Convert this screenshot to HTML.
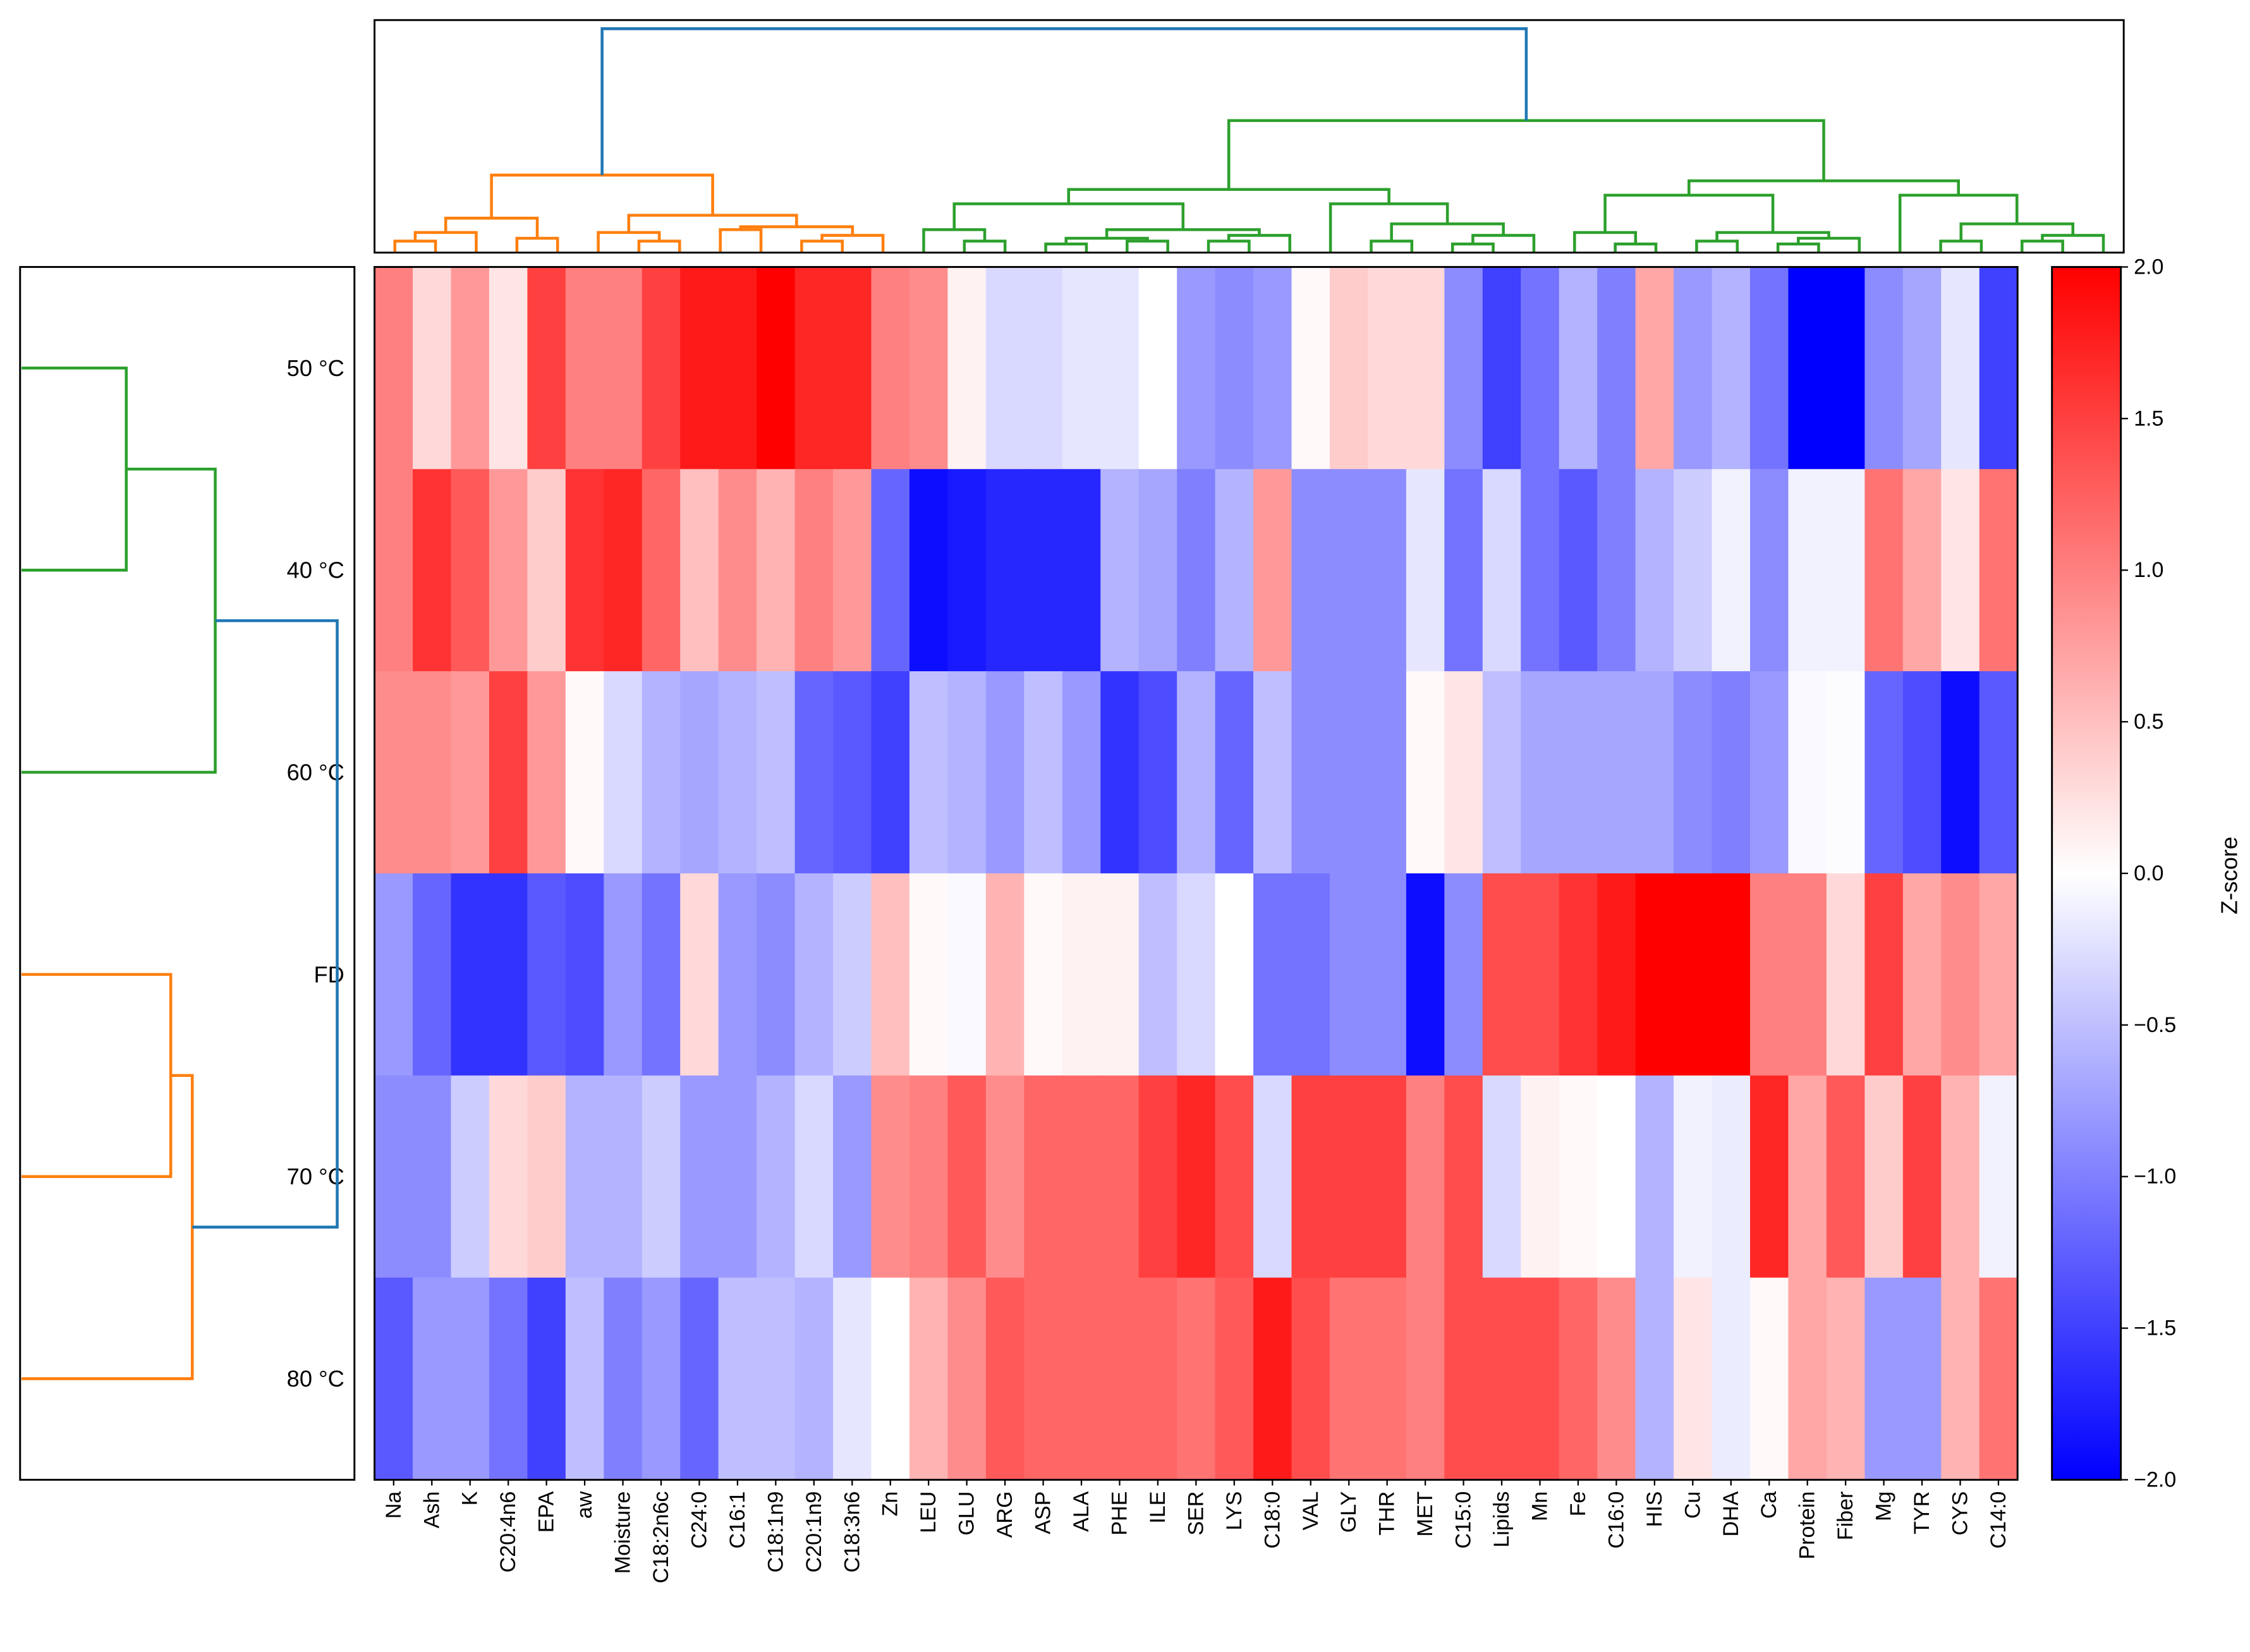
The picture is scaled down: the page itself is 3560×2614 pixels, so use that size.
<!DOCTYPE html>
<html><head><meta charset="utf-8"><style>
html,body{margin:0;padding:0;background:#fff;}
svg{display:block;}
text{font-family:"Liberation Sans","DejaVu Sans",sans-serif;fill:#000;}
</style></head><body>
<svg id="chart" xmlns="http://www.w3.org/2000/svg" width="3560" height="2614" viewBox="0 0 1568 1151" preserveAspectRatio="none">
<rect width="1568" height="1151" fill="#fff"/>
<g id="heat"></g>
<g id="collabels"></g>
<g id="rowlabels"></g>
<g id="topdendro"></g>
<g id="leftdendro"></g>
<g id="cbar"></g>
<rect x="261" y="14" width="1219" height="162" fill="none" stroke="#000" stroke-width="1.3"/>
<rect x="14" y="186" width="233" height="845" fill="none" stroke="#000" stroke-width="1.3"/>
<rect x="261" y="186" width="1145" height="845" fill="none" stroke="#000" stroke-width="1.3"/>
</svg>
<script>
const columns = ["Na","Ash","K","C20:4n6","EPA","aw","Moisture","C18:2n6c","C24:0","C16:1","C18:1n9","C20:1n9","C18:3n6","Zn","LEU","GLU","ARG","ASP","ALA","PHE","ILE","SER","LYS","C18:0","VAL","GLY","THR","MET","C15:0","Lipids","Mn","Fe","C16:0","HIS","Cu","DHA","Ca","Protein","Fiber","Mg","TYR","CYS","C14:0"];
const rows = ["50 °C","40 °C","60 °C","FD","70 °C","80 °C"];
const row50 = [1.0,0.3,0.8,0.2,1.5,1.0,1.0,1.5,1.8,1.8,2.0,1.7,1.7,1.0,0.9,0.1,-0.3,-0.3,-0.2,-0.2,0.0,-0.8,-0.9,-0.8,0.05,0.4,0.3,0.3,-0.9,-1.5,-1.1,-0.6,-1.0,0.7,-0.8,-0.6,-1.1,-2.0,-2.0,-0.9,-0.7,-0.2,-1.5];
const row40 = [1.0,1.6,1.3,0.8,0.4,1.6,1.7,1.2,0.5,0.9,0.6,1.0,0.8,-1.2,-1.9,-1.8,-1.7,-1.7,-1.7,-0.6,-0.7,-1.0,-0.6,0.8,-0.9,-0.9,-0.9,-0.2,-1.1,-0.3,-1.1,-1.3,-1.0,-0.6,-0.4,-0.1,-0.9,-0.1,-0.1,1.1,0.7,0.2,1.1];
const row60 = [0.9,0.9,0.8,1.5,0.8,0.05,-0.3,-0.6,-0.7,-0.6,-0.5,-1.2,-1.3,-1.5,-0.5,-0.6,-0.8,-0.5,-0.8,-1.6,-1.4,-0.6,-1.2,-0.5,-0.9,-0.9,-0.9,0.05,0.2,-0.5,-0.7,-0.7,-0.7,-0.7,-0.9,-1.0,-0.8,-0.05,-0.02,-1.2,-1.4,-1.9,-1.3];
const rowFD = [-0.8,-1.2,-1.6,-1.6,-1.3,-1.4,-0.8,-1.1,0.3,-0.8,-0.9,-0.6,-0.4,0.5,0.05,-0.05,0.6,0.05,0.1,0.1,-0.5,-0.3,0.0,-1.1,-1.1,-0.9,-0.9,-1.9,-0.9,1.4,1.4,1.6,1.8,2.0,2.0,2.0,1.0,1.0,0.3,1.5,0.7,0.9,0.7];
const row70 = [-0.9,-0.9,-0.4,0.3,0.4,-0.6,-0.6,-0.4,-0.8,-0.8,-0.6,-0.3,-0.8,0.9,1.0,1.3,0.9,1.2,1.2,1.2,1.5,1.7,1.4,-0.3,1.5,1.5,1.5,1.0,1.4,-0.3,0.1,0.05,0.0,-0.6,-0.1,-0.15,1.7,0.7,1.3,0.4,1.5,0.6,-0.1];
const row80 = [-1.3,-0.8,-0.8,-1.1,-1.5,-0.5,-1.0,-0.8,-1.2,-0.5,-0.5,-0.6,-0.2,0.0,0.6,0.9,1.3,1.2,1.2,1.2,1.2,1.1,1.3,1.8,1.4,1.1,1.1,1.0,1.4,1.4,1.4,1.2,0.9,-0.6,0.2,-0.15,0.05,0.7,0.6,-0.8,-0.8,0.6,1.1];
const values = [row50,row40,row60,rowFD,row70,row80];
const cbarTicks = [2.0,1.5,1.0,0.5,0.0,-0.5,-1.0,-1.5,-2.0];
// column tree nodes: [left, right, height]; leaves are column indices
const oA = [[[0,1,8],2,14],[3,4,10],24];
const oB = [[5,[6,7,8],14],[[8,9,16],[[10,11,8],12,12],18],26];
const orangeTree = [oA,oB,54];
const gLa = [[13,[14,15,8],16],[[[16,17,6],[18,19,8],10],[[20,21,8],22,12],16],34];
const gLb = [23,[[24,25,8],[[26,27,6],28,12],20],34];
const gL = [gLa,gLb,44];
const gRa = [[29,[30,31,6],14],[[32,33,8],[[34,35,6],36,10],14],40];
const gRb = [37,[[38,39,8],[[40,41,8],42,12],20],40];
const gR = [gRa,gRb,50];
const greenTree = [gL,gR,92];
const colRootHeight = 156;
// row tree
const rowGreen = [[0,1,73],2,135];
const rowOrange = [[3,4,104],5,119];
const rowRootHeight = 220;

const NS="http://www.w3.org/2000/svg";
function mk(tag,attrs,parent){const e=document.createElementNS(NS,tag);for(const k in attrs)e.setAttribute(k,attrs[k]);parent.appendChild(e);return e;}
function color(v){let t=(Math.max(-2,Math.min(2,v))+2)/4;let r,g,b;
 if(t<0.5){r=g=Math.round(510*t);b=255;}else{r=255;g=b=Math.round(255*(2-2*t));}return `rgb(${r},${g},${b})`;}
const HX=261,HY=186,HW=1145,HH=845;
const cw=HW/columns.length, rh=HH/rows.length;
const xScale=i=>HX+i*cw, yScale=j=>HY+j*rh;
const heat=document.getElementById('heat');
values.forEach((row,j)=>row.forEach((v,i)=>{
 const r=mk('rect',{x:xScale(i),y:yScale(j),width:cw+0.6,height:rh+0.6,fill:color(v)},heat);
 
 
}));
const cl=document.getElementById('collabels');
columns.forEach((c,i)=>{
 const x=xScale(i)+cw/2;
 const tk=mk('line',{x1:x,x2:x,y1:HY+HH,y2:HY+HH+4,stroke:'#000','stroke-width':1},cl);
 
 
 const t=mk('text',{x:0,y:0,'font-size':15,'text-anchor':'end','dominant-baseline':'central',transform:`translate(${x},${HY+HH+8}) rotate(-90)`},cl);
 t.textContent=c;
 
 
});
const rl=document.getElementById('rowlabels');
rows.forEach((r,j)=>{
 const y=yScale(j)+rh/2;
 const t=mk('text',{x:240,y:y,'font-size':16,'text-anchor':'end','dominant-baseline':'central'},rl);
 t.textContent=r;
 
 
});
// top dendrogram
const td=document.getElementById('topdendro');
const TX=261,TW=1219,TB=176;
const lx=i=>TX+(i+0.5)*TW/columns.length;
function drawTop(node,col){
 if(typeof node==='number')return {x:lx(node),h:0};
 const a=drawTop(node[0],col),b=drawTop(node[1],col);const h=node[2];
 const p=mk('path',{d:`M${a.x},${TB-a.h}V${TB-h}H${b.x}V${TB-b.h}`,fill:'none',stroke:col,'stroke-width':2},td);
 
 
 return {x:(a.x+b.x)/2,h:h};
}
const oRes=drawTop(orangeTree,'#ff7f0e'),gRes=drawTop(greenTree,'#2ca02c');
const rootP=mk('path',{d:`M${oRes.x},${TB-oRes.h}V${TB-colRootHeight}H${gRes.x}V${TB-gRes.h}`,fill:'none',stroke:'#1f77b4','stroke-width':2},td);


// left dendrogram
const ld=document.getElementById('leftdendro');
const LX=15;
const ly=j=>yScale(j)+rh/2;
function drawLeft(node,col){
 if(typeof node==='number')return {y:ly(node),h:0};
 const a=drawLeft(node[0],col),b=drawLeft(node[1],col);const h=node[2];
 const p=mk('path',{d:`M${LX+a.h},${a.y}H${LX+h}V${b.y}H${LX+b.h}`,fill:'none',stroke:col,'stroke-width':2},ld);
 
 
 return {y:(a.y+b.y)/2,h:h};
}
const rg=drawLeft(rowGreen,'#2ca02c'),ro=drawLeft(rowOrange,'#ff7f0e');
const rootL=mk('path',{d:`M${LX+rg.h},${rg.y}H${LX+rowRootHeight}V${ro.y}H${LX+ro.h}`,fill:'none',stroke:'#1f77b4','stroke-width':2},ld);


// colorbar
const cb=document.getElementById('cbar');
const CX=1430,CW=48,CY=186,CH=845;
const defs=mk('defs',{},cb);
const lg=mk('linearGradient',{id:'bwr',x1:0,y1:0,x2:0,y2:1},defs);
mk('stop',{offset:'0','stop-color':'rgb(255,0,0)'},lg);
mk('stop',{offset:'0.5','stop-color':'rgb(255,255,255)'},lg);
mk('stop',{offset:'1','stop-color':'rgb(0,0,255)'},lg);
const cr=mk('rect',{x:CX,y:CY,width:CW,height:CH,fill:'url(#bwr)',stroke:'#000','stroke-width':1.3},cb);


const cyS=v=>CY+(2-v)/4*CH;
cbarTicks.forEach(v=>{
 const y=cyS(v);
 const l=mk('line',{x1:CX+CW,x2:CX+CW+5,y1:y,y2:y,stroke:'#000','stroke-width':1},cb);
 
 
 const t=mk('text',{x:CX+CW+9,y:y,'font-size':15,'dominant-baseline':'central'},cb);
 t.textContent=(v<0?'\u2212':'')+Math.abs(v).toFixed(1);
 
 
});
const zt=mk('text',{x:0,y:0,'font-size':16,'text-anchor':'middle',transform:'translate(1559,610) rotate(-90)'},cb);
zt.textContent='Z-score';


</script>
</body></html>
